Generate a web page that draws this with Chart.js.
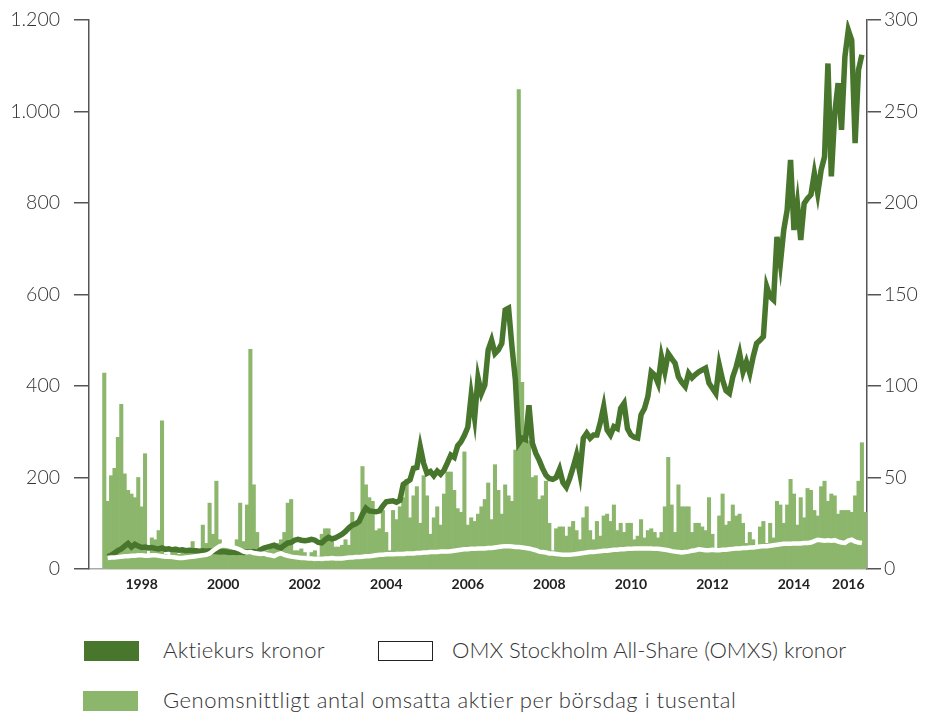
<!DOCTYPE html>
<html lang="sv">
<head>
<meta charset="utf-8">
<title>Aktiekurs och omsättning</title>
<script src="https://cdn.jsdelivr.net/npm/chart.js@4.4.1/dist/chart.umd.min.js"></script>
<style>
  html, body { margin: 0; padding: 0; background: #fff; }
  body { width: 932px; height: 717px; position: relative; overflow: hidden; font-family: Lato, "Open Sans", sans-serif; }
  #wrap { position: absolute; left: 0; top: 0; width: 932px; height: 600px; }
  .box { position: absolute; width: 55px; height: 20px; box-sizing: border-box; }
  .txt { position: absolute; font-size: 22px; font-weight: 300; letter-spacing: 0.35px; color: #333; line-height: 26px; white-space: nowrap; }
</style>
</head>
<body>
<div id="wrap"><canvas id="chart"></canvas></div>

<div class="box" style="left:84px; top:641px; background:#47762c;"></div>
<div class="txt" style="left:163px; top:637px;">Aktiekurs kronor</div>
<div class="box" style="left:378px; top:641px; background:#fff; border:1.5px solid #222;"></div>
<div class="txt" style="left:452px; top:637px; letter-spacing:0;">OMX Stockholm All-Share (OMXS) kronor</div>
<div class="box" style="left:83px; top:691px; background:#8bb66b;"></div>
<div class="txt" style="left:163px; top:687px; letter-spacing:0.55px;">Genomsnittligt antal omsatta aktier per börsdag i tusental</div>

<script>
// monthly categories, July 1997 - March 2016
const months = [];
for (let y = 1997, m = 7; months.length < 225; m++) {
  if (m > 12) { m = 1; y++; }
  months.push(y + '-' + String(m).padStart(2, '0'));
}

const yearLabels = ['1998', '2000', '2002', '2004', '2006', '2008', '2010', '2012', '2014', '2016'];

// average traded shares per day, thousands (right axis)
const volume = [
  107, 37, 51, 55, 72, 90, 52, 43, 41, 39, 50, 34, 63, 5, 17, 16, 21, 81, 8, 7,
  9, 12, 8, 9, 10, 9, 15, 10, 8, 24, 14, 36, 19, 48, 16, 13, 6, 7, 2, 16,
  36, 15, 35, 120, 46, 20, 6, 10, 10, 12, 12, 14, 16, 20, 36, 38, 10, 10, 11, 9,
  1, 9, 10, 7, 19, 22, 22, 16, 12, 12, 13, 16, 13, 31, 25, 25, 56, 46, 39, 37,
  21, 22, 32, 20, 10, 32, 27, 34, 39, 49, 28, 40, 45, 25, 51, 40, 19, 28, 34, 24,
  41, 53, 53, 43, 33, 31, 64, 24, 28, 26, 30, 34, 38, 47, 27, 57, 43, 30, 46, 40,
  37, 65, 262, 102, 71, 70, 50, 51, 38, 40, 48, 25, 10, 22, 23, 23, 18, 23, 26, 21,
  16, 28, 34, 21, 16, 26, 18, 29, 30, 26, 35, 21, 25, 20, 25, 25, 16, 18, 27, 17,
  21, 22, 20, 17, 20, 34, 61, 35, 20, 46, 34, 34, 34, 20, 25, 25, 23, 21, 39, 19,
  5, 29, 41, 24, 26, 35, 29, 30, 25, 14, 20, 16, 8, 23, 26, 14, 25, 17, 37, 35,
  25, 35, 49, 41, 24, 39, 28, 44, 43, 32, 29, 45, 48, 37, 41, 40, 30, 32, 32, 32,
  31, 40, 48, 69, 31
];

// share price, kronor (left axis)
const price = [
  null, 27, 30, 35, 40, 44, 50, 56, 48, 54, 50, 47, 48, 46, 47, 45, 44, 46, 43, 44,
  42, 43, 41, 42, 40, 41, 40, 40, 39, 40, 39, 40, 38, 38, 37, 38, 37, 36, 37, 36,
  37, 36, 37, 37, 38, 36, 42, 46, 48, 50, 52, 48, 46, 52, 57, 58, 63, 65, 63, 62,
  63, 65, 63, 58, 57, 64, 69, 66, 68, 72, 76, 82, 90, 96, 99, 104, 120, 133, 127, 126,
  125, 127, 138, 147, 148, 149, 146, 150, 185, 190, 195, 220, 222, 267, 231, 209, 213, 204, 214, 207,
  216, 232, 249, 244, 269, 278, 292, 310, 380, 330, 418, 384, 402, 479, 500, 471, 479, 493, 566, 570,
  486, 413, 275, 286, 283, 358, 275, 253, 238, 220, 205, 198, 196, 200, 218, 189, 179, 198, 222, 249,
  209, 286, 297, 286, 293, 293, 320, 355, 304, 293, 311, 307, 351, 362, 307, 293, 288, 286, 337, 351,
  377, 431, 424, 406, 464, 431, 471, 460, 450, 420, 408, 399, 428, 418, 425, 431, 435, 439, 406, 395,
  384, 446, 413, 390, 384, 420, 442, 471, 431, 453, 428, 464, 493, 500, 508, 617, 595, 588, 726, 668,
  741, 785, 894, 741, 799, 719, 799, 810, 818, 865, 821, 872, 901, 1105, 858, 996, 1062, 960, 1120, 1178,
  1156, 931, 1091, 1124, null
];

// OMX Stockholm All-Share, kronor (left axis)
const omxs = [
  null, 24, 25, 25, 26, 27, 28, 28, 29, 29, 30, 30, 29, 29, 30, 30, 29, 28, 27, 27,
  26, 25, 24, 24, 25, 26, 27, 28, 29, 30, 31, 34, 40, 45, 50, 52, 51, 49, 47, 45,
  42, 38, 36, 37, 35, 34, 33, 34, 31, 30, 28, 32, 34, 31, 29, 27, 26, 25, 24, 24,
  23, 23, 22, 23, 22, 23, 23, 24, 23, 23, 23, 24, 25, 25, 26, 26, 27, 28, 28, 29,
  30, 31, 31, 32, 32, 32, 33, 33, 33, 34, 34, 34, 35, 35, 36, 36, 37, 37, 37, 38,
  38, 38, 39, 40, 41, 42, 43, 43, 44, 44, 45, 45, 45, 46, 46, 47, 48, 49, 50, 50,
  49, 48, 48, 47, 46, 45, 43, 41, 38, 37, 36, 34, 34, 33, 32, 31, 31, 31, 32, 33,
  34, 35, 36, 37, 37, 38, 39, 40, 40, 41, 42, 42, 43, 43, 44, 44, 45, 45, 45, 45,
  45, 45, 44, 44, 43, 42, 41, 39, 38, 37, 36, 37, 38, 40, 41, 43, 42, 41, 41, 42,
  41, 41, 42, 42, 43, 44, 45, 45, 46, 46, 47, 47, 48, 49, 50, 50, 51, 52, 53, 54,
  55, 55, 55, 56, 56, 56, 57, 57, 58, 61, 64, 63, 62, 63, 62, 63, 60, 58, 57, 62,
  64, 60, 58, 57, null
];

const darkGreen = '#47762c';
const lightGreen = '#8bb66b';
const axisGrey = '#555';

const toPoints = arr => arr.map((v, i) => ({ x: i, y: v }));

// year labels sit under mid-year; the last one is pulled in to fit
const yearTicks = yearLabels.map(y => {
  const idx = months.indexOf(y + '-06');
  return { value: idx >= 0 ? idx : months.length - 6 };
});

const swedish = v => String(v).replace(/\B(?=(\d{3})+(?!\d))/g, '.');

// fixed axis widths so the plot area lands where the original has it
function fixWidth(w) {
  return scale => {
    scale.width = w;
    scale.paddingTop = 0;
    scale.paddingBottom = 0;
  };
}

new Chart(document.getElementById('chart'), {
  type: 'bar',
  data: {
    datasets: [
      {
        type: 'line',
        label: 'OMX Stockholm All-Share (OMXS) kronor',
        data: toPoints(omxs),
        yAxisID: 'y',
        borderColor: '#ffffff',
        borderWidth: 4.5,
        backgroundColor: lightGreen,
        fill: 'origin',
        pointRadius: 0,
        tension: 0,
        order: 1
      },
      {
        type: 'line',
        label: 'Aktiekurs kronor',
        data: toPoints(price),
        yAxisID: 'y',
        borderColor: darkGreen,
        borderWidth: 5.5,
        pointRadius: 0,
        tension: 0,
        fill: false,
        order: 2
      },
      {
        label: 'Genomsnittligt antal omsatta aktier per börsdag i tusental',
        data: toPoints(volume),
        yAxisID: 'y2',
        backgroundColor: lightGreen,
        borderWidth: 0,
        barPercentage: 1,
        categoryPercentage: 1,
        order: 3
      }
    ]
  },
  options: {
    responsive: true,
    maintainAspectRatio: false,
    animation: false,
    layout: { padding: { top: 20, left: 0, right: 0, bottom: 0 } },
    plugins: {
      legend: { display: false },
      tooltip: { enabled: false },
      filler: { drawTime: 'beforeDatasetsDraw' }
    },
    scales: {
      x: {
        type: 'linear',
        min: -4.5,
        max: months.length - 0.5,
        offset: false,
        grid: { display: true, drawOnChartArea: false, drawTicks: false, offset: false },
        border: { display: true, color: '#aaa', width: 1.5 },
        afterBuildTicks: scale => { scale.ticks = yearTicks.map(t => ({ value: t.value })); },
        afterFit: scale => { scale.height = 31; },
        ticks: {
          autoSkip: false,
          maxRotation: 0,
          padding: 7,
          color: '#222',
          font: { family: 'Lato', size: 14, weight: 'bold' },
          callback: (v, i) => yearLabels[i]
        }
      },
      y: {
        position: 'left',
        min: 0,
        max: 1200,
        ticks: {
          stepSize: 200,
          padding: 14,
          color: '#333',
          font: { family: 'Lato', size: 19.5, weight: 300 },
          callback: v => swedish(v)
        },
        grid: { drawOnChartArea: false, drawTicks: true, tickLength: 15, color: axisGrey, lineWidth: 1.5 },
        border: { display: true, color: axisGrey, width: 1.5 },
        afterFit: fixWidth(89)
      },
      y2: {
        position: 'right',
        min: 0,
        max: 300,
        ticks: {
          stepSize: 50,
          padding: 3,
          color: '#333',
          font: { family: 'Lato', size: 19.5, weight: 300 }
        },
        grid: { drawOnChartArea: false, drawTicks: true, tickLength: 14, color: axisGrey, lineWidth: 1.5 },
        border: { display: true, color: axisGrey, width: 1.5 },
        afterFit: fixWidth(65)
      }
    }
  }
});
</script>
</body>
</html>
